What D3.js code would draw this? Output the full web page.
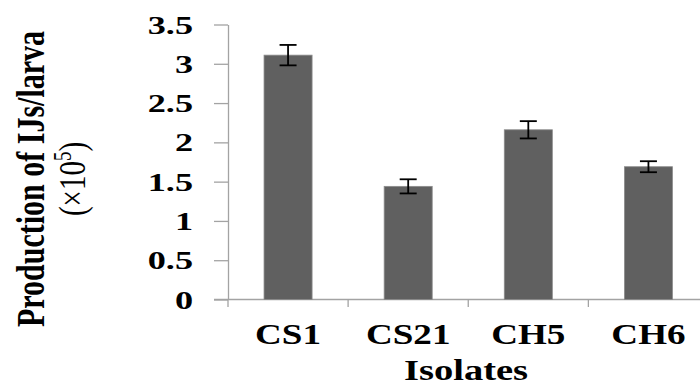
<!DOCTYPE html>
<html>
<head>
<meta charset="utf-8">
<script src="https://cdn.jsdelivr.net/npm/d3@7"></script>
<style>
  body { margin: 0; background: #fff; }
  svg { display: block; }
  text { font-family: "Liberation Serif", "Times New Roman", serif; fill: #000; }
</style>
</head>
<body>
<svg width="700" height="387"></svg>
<script>
// dati (produzione IJs/larva, x10^5)
const isolates = ["CS1", "CS21", "CH5", "CH6"];
const production = [3.11, 1.44, 2.16, 1.69];
const errors = [0.13, 0.09, 0.11, 0.07];
const yTicks = [0, 0.5, 1, 1.5, 2, 2.5, 3, 3.5];

const svg = d3.select("svg");

const mLeft = 228, mRight = 708.5, mTop = 24.5, mBottom = 299.5;

const x = d3.scaleBand()
  .domain(isolates)
  .range([mLeft, mRight])
  .paddingInner(0.6)
  .paddingOuter(0.3);

const y = d3.scaleLinear()
  .domain([0, 3.5])
  .range([mBottom, mTop]);

const axisColor = "#a3a3a3";

// asse y
const yAxis = svg.append("g")
  .attr("transform", `translate(${mLeft},0)`)
  .call(d3.axisLeft(y).tickValues(yTicks).tickSize(14).tickSizeOuter(0).tickFormat(d3.format("")));

yAxis.select(".domain").attr("stroke", axisColor).attr("stroke-width", 1.3);
yAxis.selectAll(".tick line").attr("stroke", axisColor).attr("stroke-width", 1.3);
yAxis.selectAll(".tick text")
  .attr("font-size", 25)
  .attr("font-weight", "bold")
  .attr("x", -35 / 1.45)
  .attr("dy", "0.34em")
  .attr("transform", "scale(1.45,1)");

// asse x: linea di base + tacche tra le categorie
svg.append("line")
  .attr("x1", mLeft - 14).attr("x2", 700)
  .attr("y1", y(0)).attr("y2", y(0))
  .attr("stroke", axisColor).attr("stroke-width", 1.3);

svg.append("g")
  .selectAll("line")
  .data(isolates)
  .join("line")
  .attr("x1", d => x(d) - x.step() * x.paddingOuter())
  .attr("x2", d => x(d) - x.step() * x.paddingOuter())
  .attr("y1", y(0)).attr("y2", y(0) + 7.5)
  .attr("stroke", axisColor).attr("stroke-width", 1.3);

const xAxis = svg.append("g")
  .attr("transform", `translate(0,${mBottom})`)
  .call(d3.axisBottom(x).tickSize(0).tickSizeOuter(0));

xAxis.select(".domain").remove();
xAxis.selectAll(".tick text")
  .attr("font-size", 29)
  .attr("font-weight", "bold")
  .attr("y", 0)
  .attr("dy", 0)
  .attr("transform", "translate(0,44.5) scale(1.28,1)")
  .attr("x", 0);

// barre
svg.append("g")
  .selectAll("rect")
  .data(isolates)
  .join("rect")
  .attr("x", d => x(d))
  .attr("width", x.bandwidth())
  .attr("y", (d, i) => y(production[i]))
  .attr("height", (d, i) => y(0) - y(production[i]))
  .attr("fill", "#606060")
  .attr("stroke", "#8c8c8c")
  .attr("stroke-width", 0.8);

// barre di errore
const capW = 8.5;
const err = svg.append("g")
  .attr("stroke", "#000")
  .attr("stroke-width", 1.8)
  .selectAll("g")
  .data(isolates)
  .join("g")
  .attr("transform", d => `translate(${x(d) + x.bandwidth() / 2},0)`);

err.append("line")
  .attr("y1", (d, i) => y(production[i] + errors[i]))
  .attr("y2", (d, i) => y(production[i] - errors[i]));
err.append("line")
  .attr("x1", -capW).attr("x2", capW)
  .attr("y1", (d, i) => y(production[i] + errors[i]))
  .attr("y2", (d, i) => y(production[i] + errors[i]));
err.append("line")
  .attr("x1", -capW).attr("x2", capW)
  .attr("y1", (d, i) => y(production[i] - errors[i]))
  .attr("y2", (d, i) => y(production[i] - errors[i]));

// titoli degli assi
svg.append("text")
  .attr("text-anchor", "middle")
  .attr("font-size", 29)
  .attr("font-weight", "bold")
  .attr("transform", `translate(466,380) scale(1.33,1)`)
  .text("Isolates");

const yTitle = svg.append("g")
  .attr("transform", "translate(0,179) scale(1.3,1) rotate(-90)");

yTitle.append("text")
  .attr("text-anchor", "middle")
  .attr("font-size", 30)
  .attr("font-weight", "bold")
  .attr("y", 44 / 1.3)
  .text("Production of IJs/larva");

const t2 = yTitle.append("text")
  .attr("text-anchor", "middle")
  .attr("font-size", 29)
  .attr("y", 85 / 1.3);
t2.append("tspan").text("(×10");
t2.append("tspan").attr("font-size", 19).attr("dy", -11).text("5");
t2.append("tspan").attr("dy", 11).text(")");
</script>
</body>
</html>
